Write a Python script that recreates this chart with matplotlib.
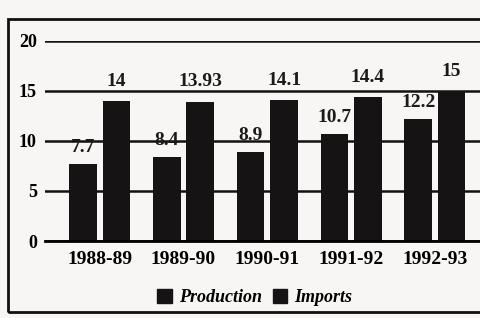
import numpy as np
import matplotlib.pyplot as plt
from matplotlib.patches import Rectangle

# data
years = ["1988-89", "1989-90", "1990-91", "1991-92", "1992-93"]
production = [7.7, 8.4, 8.9, 10.7, 12.2]
imports = [14, 13.93, 14.1, 14.4, 15]
prod_labels = ["7.7", "8.4", "8.9", "10.7", "12.2"]
imp_labels = ["14", "13.93", "14.1", "14.4", "15"]

plt.rcParams['font.family'] = ['Liberation Serif', 'DejaVu Serif']
plt.rcParams['font.weight'] = 'bold'

fig = plt.figure(figsize=(4.81, 3.18), dpi=100, facecolor='#f7f6f4')
ax = fig.add_axes([0.094, 0.242, 0.906, 0.63])
ax.set_facecolor('#f7f6f4')

x = np.arange(len(years))
w = 0.33
b1 = ax.bar(x - 0.2, production, w, color='#151313', zorder=3)
b2 = ax.bar(x + 0.2, imports, w, color='#151313', zorder=3)

for rect, lab in zip(b1, prod_labels):
    ax.annotate(lab, (rect.get_x() + rect.get_width() / 2, rect.get_height()),
                xytext=(0, 6), textcoords='offset points', ha='center', va='bottom',
                fontsize=14, fontweight='bold', color='#1a1a1a', zorder=4)
for rect, lab in zip(b2, imp_labels):
    ax.annotate(lab, (rect.get_x() + rect.get_width() / 2, rect.get_height()),
                xytext=(0, 8), textcoords='offset points', ha='center', va='bottom',
                fontsize=14, fontweight='bold', color='#1a1a1a', zorder=4)

ax.set_xlim(-0.65, 4.55)
ax.set_ylim(0, 20)
ax.set_yticks([0, 5, 10, 15, 20])
ax.yaxis.grid(True, color='#111111', linewidth=1.8, zorder=2)
ax.tick_params(axis='y', length=0, pad=6, labelsize=13)
ax.tick_params(axis='x', length=0, pad=7, labelsize=14)
ax.set_xticks(x)
ax.set_xticklabels(years)
for s in ['left', 'right', 'top']:
    ax.spines[s].set_visible(False)
ax.spines['bottom'].set_linewidth(2)
ax.spines['bottom'].set_zorder(4)

# legend below the axis labels
h1 = Rectangle((0, 0), 1, 1, color='#151313')
h2 = Rectangle((0, 0), 1, 1, color='#151313')
fig.legend([h1, h2], ["Production", "Imports"], loc='center', bbox_to_anchor=(0.53, 0.065),
           ncol=2, frameon=False, prop={'size': 13, 'weight': 'bold', 'style': 'italic'},
           handlelength=0.8, handleheight=0.8, columnspacing=0.6, handletextpad=0.4)

# outer frame
fig.patches.append(Rectangle((0.017, 0.02), 0.99, 0.92, transform=fig.transFigure,
                             fill=False, edgecolor='#111111', linewidth=2))

fig.savefig('out.png', dpi=100, facecolor=fig.get_facecolor())
